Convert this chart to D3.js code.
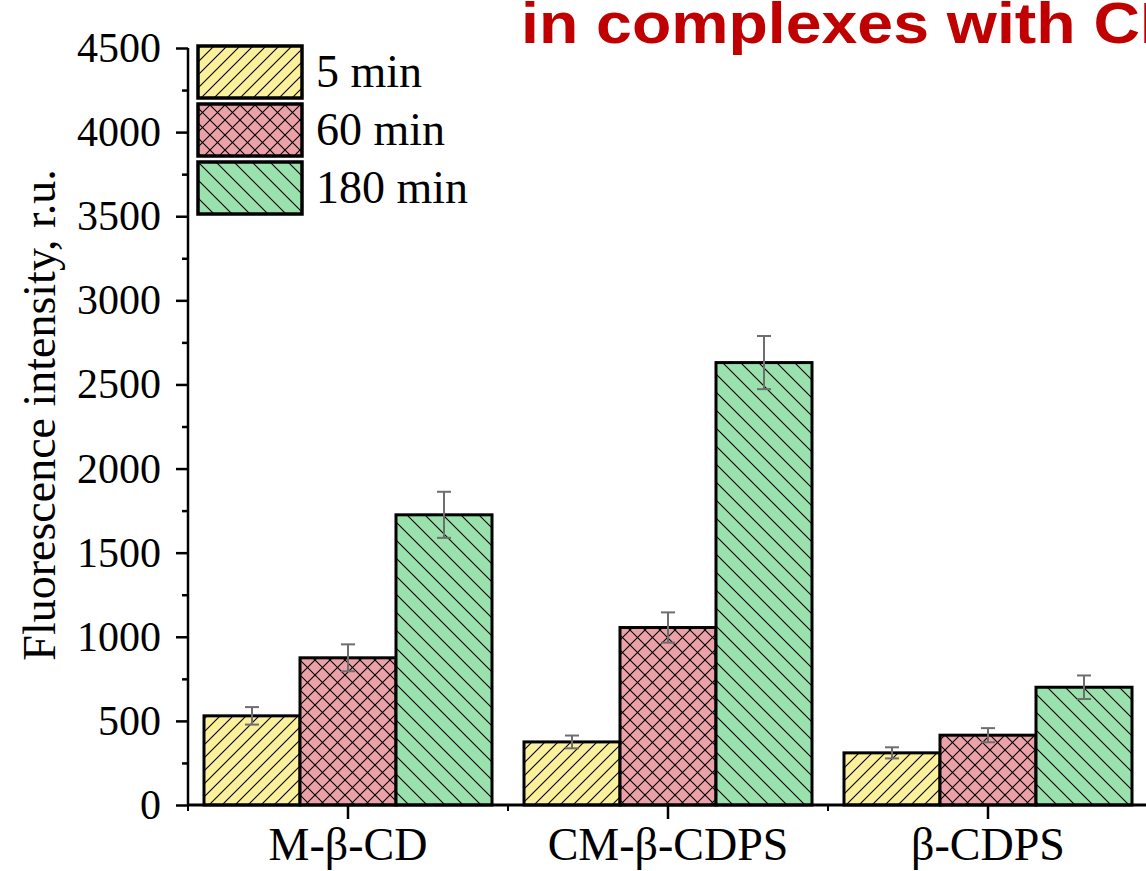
<!DOCTYPE html>
<html lang="en">
<head>
    <meta charset="UTF-8">
    <title>Fluorescence intensity</title>
    <script src="https://d3js.org/d3.v7.min.js"></script>
    <style>
        body { margin: 0; background: #fff; }
        svg text { font-family: "Liberation Serif", "Times New Roman", serif; }
        .title { font-family: "Liberation Sans", Arial, sans-serif !important; font-weight: bold; }
    </style>
</head>
<body>
    <svg id="chart" width="1146" height="871"></svg>
    <script>
        // data
        let groups = ["M-β-CD", "CM-β-CDPS", "β-CDPS"]
        let seriesNames = ["5 min", "60 min", "180 min"]
        let values5 = [530, 375, 310]
        let values60 = [875, 1055, 415]
        let values180 = [1725, 2630, 700]
        let err5 = [52, 38, 33]
        let err60 = [80, 90, 42]
        let err180 = [137, 158, 70]
        let yTicks = [0, 500, 1000, 1500, 2000, 2500, 3000, 3500, 4000, 4500]

        let fills = ["#fbf09c", "#eba1a8", "#99e2ae"]
        let patternIds = ["hatchFwd", "hatchCross", "hatchBack"]

        let svg = d3.select("#chart")
        let width = 1146, height = 871
        let marginLeft = 188, baseY = 805, topY = 48

        let x = d3.scaleBand().domain(groups).range([marginLeft, marginLeft + 960]).paddingInner(0).paddingOuter(0)
        let xs = d3.scaleBand().domain(seriesNames).range([16, 304])
        let y = d3.scaleLinear().domain([0, 4500]).range([baseY, topY])

        // hatch patterns
        let defs = svg.append("defs")
        function makePattern(id, fill, size, paths) {
            let p = defs.append("pattern")
                .attr("id", id)
                .attr("patternUnits", "userSpaceOnUse")
                .attr("width", size).attr("height", size)
            p.append("rect").attr("width", size).attr("height", size).attr("fill", fill)
            paths.forEach(d => {
                p.append("path").attr("d", d)
                    .attr("stroke", "#000").attr("stroke-width", 1.1).attr("fill", "none")
            })
        }
        let s1 = 13, s2 = 15, s3 = 18
        makePattern(patternIds[0], fills[0], s1,
            [`M0,${s1} L${s1},0 M${-s1/2},${s1/2} L${s1/2},${-s1/2} M${s1/2},${s1*1.5} L${s1*1.5},${s1/2}`])
        makePattern(patternIds[1], fills[1], s2,
            [`M0,${s2} L${s2},0 M${-s2/2},${s2/2} L${s2/2},${-s2/2} M${s2/2},${s2*1.5} L${s2*1.5},${s2/2}`,
             `M0,0 L${s2},${s2} M${-s2/2},${s2/2} L${s2/2},${s2*1.5} M${s2/2},${-s2/2} L${s2*1.5},${s2/2}`])
        makePattern(patternIds[2], fills[2], s3,
            [`M0,0 L${s3},${s3} M${-s3/2},${s3/2} L${s3/2},${s3*1.5} M${s3/2},${-s3/2} L${s3*1.5},${s3/2}`])

        let allValues = [values5, values60, values180]
        let allErr = [err5, err60, err180]
        let rows = []
        groups.forEach((g, gi) => {
            seriesNames.forEach((s, si) => {
                rows.push({ group: g, series: s, si: si, value: allValues[si][gi], err: allErr[si][gi] })
            })
        })

        // bars
        svg.append("g").selectAll("rect")
            .data(rows)
            .enter()
            .append("rect")
            .attr("x", d => x(d.group) + xs(d.series))
            .attr("width", xs.bandwidth())
            .attr("y", d => y(d.value))
            .attr("height", d => baseY - y(d.value))
            .attr("fill", d => `url(#${patternIds[d.si]})`)
            .attr("stroke", "#000")
            .attr("stroke-width", 3)

        // error bars
        let eb = svg.append("g").attr("stroke", "#6e6e6e").attr("stroke-width", 2)
        rows.forEach(d => {
            let cx = x(d.group) + xs(d.series) + xs.bandwidth() / 2
            eb.append("line").attr("x1", cx).attr("x2", cx)
                .attr("y1", y(d.value + d.err)).attr("y2", y(d.value - d.err))
            eb.append("line").attr("x1", cx - 7).attr("x2", cx + 7)
                .attr("y1", y(d.value + d.err)).attr("y2", y(d.value + d.err))
            eb.append("line").attr("x1", cx - 7).attr("x2", cx + 7)
                .attr("y1", y(d.value - d.err)).attr("y2", y(d.value - d.err))
        })

        // y axis
        let yAxis = svg.append("g").attr("transform", `translate(${marginLeft},0)`)
        yAxis.call(d3.axisLeft(y).tickValues(d3.range(0, 4501, 250)).tickSize(6).tickFormat(""))
        yAxis.selectAll(".tick line").attr("stroke-width", 2.5)
            .attr("x2", d => d % 500 === 0 ? -12 : -6)
        yAxis.select(".domain").remove()
        yAxis.append("line").attr("x1", 0).attr("x2", 0).attr("y1", topY).attr("y2", baseY + 1)
            .attr("stroke", "#000").attr("stroke-width", 2.5)
        yAxis.selectAll(".ylab").data(yTicks).enter().append("text")
            .attr("class", "ylab")
            .attr("x", -27).attr("y", d => y(d) + 14)
            .attr("text-anchor", "end")
            .attr("font-size", 42)
            .attr("fill", "#000")
            .text(d => d)

        // x axis
        let xAxis = svg.append("g")
        xAxis.append("line").attr("x1", marginLeft - 1).attr("x2", width).attr("y1", baseY).attr("y2", baseY)
            .attr("stroke", "#000").attr("stroke-width", 3)
        xAxis.selectAll(".bt").data(groups).enter().append("line")
            .attr("x1", d => x(d)).attr("x2", d => x(d))
            .attr("y1", baseY).attr("y2", baseY + 6)
            .attr("stroke", "#000").attr("stroke-width", 2)
        xAxis.selectAll(".ct").data(groups).enter().append("line")
            .attr("x1", d => x(d) + x.bandwidth() / 2).attr("x2", d => x(d) + x.bandwidth() / 2)
            .attr("y1", baseY).attr("y2", baseY + 14)
            .attr("stroke", "#000").attr("stroke-width", 2.5)
        xAxis.selectAll(".xlab").data(groups).enter().append("text")
            .attr("x", d => x(d) + x.bandwidth() / 2)
            .attr("y", 860)
            .attr("text-anchor", "middle")
            .attr("font-size", 46)
            .attr("fill", "#000")
            .text(d => d)

        // y label
        svg.append("text")
            .attr("transform", "translate(55,415) rotate(-90)")
            .attr("text-anchor", "middle")
            .attr("font-size", 46)
            .attr("fill", "#000")
            .text("Fluorescence intensity, r.u.")

        // legend
        let legend = svg.append("g")
        seriesNames.forEach((s, i) => {
            let ly = 46 + i * 58
            legend.append("rect")
                .attr("x", 198).attr("y", ly).attr("width", 104).attr("height", 52)
                .attr("fill", `url(#${patternIds[i]})`)
                .attr("stroke", "#000").attr("stroke-width", 3.5)
            legend.append("text")
                .attr("x", 316).attr("y", ly + 41)
                .attr("font-size", 46)
                .attr("fill", "#000")
                .text(s)
        })

        // title (cut off at the right edge)
        svg.append("text")
            .attr("class", "title")
            .attr("transform", "translate(521,43) scale(1.13,1)")
            .attr("font-size", 57)
            .attr("fill", "#c00000")
            .text("in complexes with CDs")
    </script>
</body>
</html>
